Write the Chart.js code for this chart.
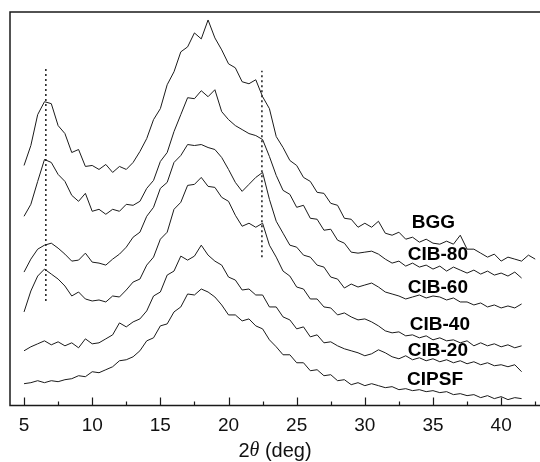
<!DOCTYPE html>
<html lang="en">
<head>
<meta charset="UTF-8" />
<title>XRD patterns</title>
<script src="https://cdn.jsdelivr.net/npm/chart.js"></script>
<style>
  body { margin: 0; background: #fff; }
  canvas { display: block; }
</style>
</head>
<body>
<canvas id="xrd" width="540" height="462"></canvas>
<script>
  // 2theta sampling (deg)
  const angles = [5, 5.5, 6, 6.5, 7, 7.5, 8, 8.5, 9, 9.5, 10, 10.5, 11, 11.5, 12, 12.5, 13, 13.5, 14, 14.5,
    15, 15.5, 16, 16.5, 17, 17.5, 18, 18.5, 19, 19.5, 20, 20.5, 21, 21.5, 22, 22.5, 23, 23.5, 24, 24.5,
    25, 25.5, 26, 26.5, 27, 27.5, 28, 28.5, 29, 29.5, 30, 30.5, 31, 31.5, 32, 32.5, 33, 33.5, 34, 34.5,
    35, 35.5, 36, 36.5, 37, 37.5, 38, 38.5, 39, 39.5, 40, 40.5, 41, 41.5, 42, 42.5];

  // stacked intensities (arbitrary units, offset already included)
  const bgg = [241, 261, 292, 305, 303, 281, 273, 254, 257, 240, 241, 237, 242, 234, 240, 237, 244, 255, 268, 287,
    298, 322, 335, 355, 360, 374, 368, 387, 369, 357, 343, 339, 325, 323, 327, 310, 298, 270, 259, 246,
    241, 229, 225, 214, 213, 203, 201, 188, 187, 179, 183, 179, 185, 173, 171, 174, 167, 169, 164, 167,
    163, 162, 165, 162, 171, 157, 157, 153, 149, 152, 145, 149, 147, 145, 151, 147];
  const cib80 = [190, 202, 225, 247, 244, 232, 225, 211, 205, 213, 195, 197, 192, 197, 195, 202, 201,
    205, 218, 226, 245, 254, 275, 292, 309, 308, 316, 310, 317, 295, 287, 281, 277, 273, 271, 267,
    250, 231, 216, 212, 199, 201, 188, 187, 176, 177, 166, 163, 154, 153,
    154, 155, 152, 147, 143, 145, 140, 143, 139, 141, 137, 140, 135, 139, 136, 133, 136, 132, 135, 131, 133, 130, 134, 128];
  const cib60 = [134, 147, 157, 161, 163, 158, 152, 145, 146, 153, 144, 143, 141, 147, 152,
    159, 169, 174, 190, 199, 218, 224, 244, 251, 262, 261, 262, 259, 257, 249, 237, 224, 215, 222, 229, 234, 207, 185,
    173, 161, 159, 151, 149, 141, 139, 129, 127, 118,
    122, 119, 121, 123, 119, 114, 112, 110, 107, 109, 111, 108, 110, 109, 106, 108, 104, 104, 101, 103, 99, 101, 98, 100, 98, 102];
  const cib40 = [94, 115, 130, 137, 132, 127, 120, 110, 114, 107, 105, 106, 104, 110, 109, 116, 124,
    127, 141, 149, 167, 174, 197, 204, 221, 222, 229, 220, 219, 209, 205, 191, 180, 183, 179, 183, 161,
    149, 135, 130, 119, 117, 107, 107, 99, 98, 91, 93,
    89, 86, 87, 84, 80, 75, 73, 74, 70, 71, 68, 70, 66, 68, 65, 66, 63, 65, 60, 63, 60, 62, 59, 61, 58, 60];
  const cib20 = [55, 59, 62, 65, 61, 64, 60, 63, 58, 67, 62, 63, 67, 71, 83, 79, 84, 87,
    95, 110, 114, 131, 135, 150, 146, 150, 161, 151, 145,
    141, 129, 126, 116, 117, 111, 111, 99, 99, 89, 86, 77, 79, 69, 71, 63, 64,
    60, 57, 55, 53, 50, 52, 56, 53, 49, 47, 50, 46, 48, 45, 47, 44, 46, 43, 45, 42, 44, 41, 43, 40, 41, 39, 41, 34];
  const cipsf = [22, 23, 25, 23, 25, 24, 26, 27, 30, 29, 34, 33, 36, 39, 45, 46, 49,
    55, 65, 68, 80, 82, 94, 99, 112, 111, 117, 114, 109,
    101, 91, 91, 85, 87, 80, 77, 66, 59, 51, 51, 43, 43, 35, 36, 30, 31, 25, 26,
    21, 23, 20, 22, 20, 18, 19, 16, 17, 15, 16, 14, 15, 13, 14, 11, 12, 10, 11, 8, 10, 7, 9, 6, 8, 7];

  const sampleNames = ['BGG', 'CIB-80', 'CIB-60', 'CIB-40', 'CIB-20', 'CIPSF'];
  const labelX = [33.45, 33.15, 33.15, 33.3, 33.15, 33.1];
  const labelY = [183, 151, 118, 81, 55, 26];

  // reference reflections (dotted guides)
  const guideAngles = [6.6, 22.45];
  const guideLow = [105, 149];
  const guideHigh = [338, 336];

  const majorTicks = [5, 10, 15, 20, 25, 30, 35, 40];
  const minorTicks = [7.5, 12.5, 17.5, 22.5, 27.5, 32.5, 37.5, 42.5];

  const ink = '#1a1a1a';
  const sans = '"Liberation Sans", Arial, sans-serif';
  const series = [bgg, cib80, cib60, cib40, cib20, cipsf];

  const datasets = series.map((vals, i) => ({
    label: sampleNames[i],
    data: vals.map((v, j) => ({ x: angles[j], y: v })),
    borderColor: ink,
    borderWidth: 1,
    pointRadius: 0,
    tension: 0,
    fill: false
  }));

  guideAngles.forEach((a, i) => {
    datasets.push({
      label: 'guide' + i,
      data: [{ x: a, y: guideLow[i] }, { x: a, y: guideHigh[i] }],
      borderColor: ink,
      borderWidth: 1.5,
      borderDash: [2, 3],
      pointRadius: 0,
      fill: false
    });
  });

  // box on top/left, axis line and inward ticks, axis title with italic theta
  const framePlugin = {
    id: 'frame',
    afterDraw(chart) {
      const { ctx, chartArea: a } = chart;
      const x = chart.scales.x;
      ctx.save();
      ctx.strokeStyle = ink;
      ctx.lineWidth = 1.5;
      ctx.beginPath();
      ctx.moveTo(a.right + 2, a.bottom);
      ctx.lineTo(a.left, a.bottom);
      ctx.lineTo(a.left, a.top);
      ctx.lineTo(a.right + 2, a.top);
      ctx.stroke();
      ctx.lineWidth = 1.2;
      ctx.beginPath();
      majorTicks.forEach(v => {
        const px = Math.round(x.getPixelForValue(v)) + 0.5;
        ctx.moveTo(px, a.bottom);
        ctx.lineTo(px, a.bottom - 8);
      });
      minorTicks.forEach(v => {
        const px = Math.round(x.getPixelForValue(v)) + 0.5;
        ctx.moveTo(px, a.bottom);
        ctx.lineTo(px, a.bottom - 4);
      });
      ctx.stroke();

      // axis title: 2θ (deg)
      const parts = [['2', '20px ' + sans], ['θ', 'italic 20px "Liberation Serif", "Times New Roman", serif'], [' (deg)', '20px ' + sans]];
      let w = 0;
      parts.forEach(p => { ctx.font = p[1]; w += ctx.measureText(p[0]).width; });
      let cx = (a.left + a.right) / 2 - w / 2;
      const cy = x.bottom - 11;
      ctx.fillStyle = '#111';
      ctx.textBaseline = 'middle';
      ctx.textAlign = 'left';
      parts.forEach(p => { ctx.font = p[1]; ctx.fillText(p[0], cx, cy); cx += ctx.measureText(p[0]).width; });
      ctx.restore();
    }
  };

  const namePlugin = {
    id: 'names',
    afterDatasetsDraw(chart) {
      const { ctx } = chart;
      const { x, y } = chart.scales;
      ctx.save();
      ctx.fillStyle = '#000';
      ctx.font = 'bold 19px ' + sans;
      ctx.textAlign = 'left';
      ctx.textBaseline = 'middle';
      sampleNames.forEach((n, i) => {
        ctx.fillText(n, x.getPixelForValue(labelX[i]), y.getPixelForValue(labelY[i]));
      });
      ctx.restore();
    }
  };

  new Chart(document.getElementById('xrd'), {
    type: 'line',
    data: { datasets },
    options: {
      responsive: false,
      animation: false,
      layout: { padding: { left: 10, top: 12, right: 0, bottom: 0 } },
      plugins: {
        legend: { display: false },
        tooltip: { enabled: false }
      },
      scales: {
        x: {
          type: 'linear',
          min: 3.97,
          max: 42.85,
          afterBuildTicks: s => { s.ticks = majorTicks.map(v => ({ value: v })); },
          grid: { display: false, drawTicks: false },
          border: { display: false },
          ticks: {
            color: '#111',
            padding: 9,
            maxRotation: 0,
            font: { family: sans, size: 19 }
          },
          title: {
            display: true,
            text: '2θ (deg)',
            color: 'rgba(0,0,0,0)',
            padding: { top: 0, bottom: 0 },
            font: { family: sans, size: 13 }
          }
        },
        y: {
          display: false,
          min: 0,
          max: 395
        }
      }
    },
    plugins: [framePlugin, namePlugin]
  });
</script>
</body>
</html>
